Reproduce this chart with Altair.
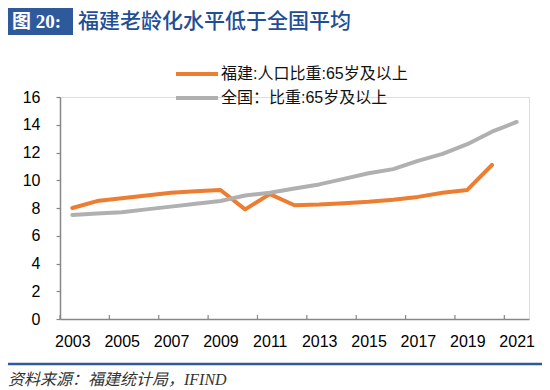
import altair as alt
import pandas as pd

# ---- data ----
years = list(range(2003, 2022))
fujian_years = list(range(2003, 2021))
fujian = [8.0, 8.5, 8.7, 8.9, 9.1, 9.2, 9.3, 7.9, 9.0, 8.2, 8.25, 8.35, 8.45, 8.6, 8.8, 9.1, 9.3, 11.1]
national = [7.5, 7.6, 7.7, 7.9, 8.1, 8.3, 8.5, 8.9, 9.1, 9.4, 9.7, 10.1, 10.5, 10.8, 11.4, 11.9, 12.6, 13.5, 14.2]
series_names = ["福建:人口比重:65岁及以上", "全国：比重:65岁及以上"]
series_colors = ["#ED7D31", "#B0B0B0"]
y_ticks = [0, 2, 4, 6, 8, 10, 12, 14, 16]
x_label_years = [2003, 2005, 2007, 2009, 2011, 2013, 2015, 2017, 2019, 2021]
title_tag = "图 20:"
title_text = "福建老龄化水平低于全国平均"
source_text = "资料来源：福建统计局，IFIND"

rows = []
for yr, v in zip(fujian_years, fujian):
    rows.append({"year": yr, "value": v, "series": series_names[0], "k": 0})
for yr, v in zip(years, national):
    rows.append({"year": yr, "value": v, "series": series_names[1], "k": 1})
df = pd.DataFrame(rows)

W, H = 469, 222
band = W / len(years)
AXIS_COLOR = "#878787"
BLUE = "#2E5A9C"
NUM_FONT = "Liberation Sans"
CJK_FONT = "Liberation Sans, Noto Sans CJK SC"

x_scale = alt.Scale(domain=[years[0] - 0.5, years[-1] + 0.5], nice=False, zero=False)
y_scale = alt.Scale(domain=[0, 16], nice=False)
color_scale = alt.Scale(domain=series_names, range=series_colors)

tick_pos = [y - 0.5 for y in x_label_years]
tick_df = pd.DataFrame({"t": tick_pos})

lines = alt.Chart(df).mark_line(strokeWidth=4, strokeJoin="round", strokeCap="round").encode(
    x=alt.X("year:Q", scale=x_scale,
            axis=alt.Axis(values=tick_pos, labelExpr="'' + (datum.value + 0.5)",
                          labelOffset=band / 2, ticks=False, tickSize=0, grid=False,
                          title=None, labelFont=NUM_FONT, labelFontSize=16,
                          labelColor="#000000", labelPadding=14, labelFlush=False,
                          labelOverlap=False, domainColor=AXIS_COLOR, domainWidth=1.5)),
    y=alt.Y("value:Q", scale=y_scale,
            axis=alt.Axis(values=y_ticks, grid=False, title=None, tickSize=4,
                          tickColor=AXIS_COLOR, tickWidth=1.2, labelFont=NUM_FONT,
                          labelFontSize=16, labelColor="#000000", labelPadding=16,
                          domainColor=AXIS_COLOR, domainWidth=1.5)),
    color=alt.Color("series:N", scale=color_scale, legend=None),
    detail="k:N",
    order="year:Q",
)

xticks = alt.Chart(tick_df).mark_rule(color=AXIS_COLOR, strokeWidth=1.2).encode(
    x=alt.X("t:Q", scale=x_scale),
    y=alt.value(H - 4),
    y2=alt.value(H),
)

layers = [xticks, lines]

# manual legend
for i, name in enumerate(series_names):
    ldf = pd.DataFrame({"series": [name]})
    layers.append(alt.Chart(ldf).mark_rule(strokeWidth=4).encode(
        x=alt.value(116), x2=alt.value(158), y=alt.value(-23 + 24 * i),
        color=alt.Color("series:N", scale=color_scale, legend=None)))
    layers.append(alt.Chart(ldf).mark_text(align="left", baseline="middle", font=CJK_FONT,
                                           fontSize=16, color="#111111").encode(
        x=alt.value(161), y=alt.value(-23 + 24 * i), text="series:N"))

one = pd.DataFrame({"a": [0]})
# header box + title
layers.append(alt.Chart(one).mark_rect(color=BLUE).encode(
    x=alt.value(-52), x2=alt.value(13), y=alt.value(-89), y2=alt.value(-62)))
layers.append(alt.Chart(one).mark_text(align="left", baseline="middle", font="Liberation Serif, Noto Sans CJK SC",
                                       fontSize=19, fontWeight="bold", color="#FFFFFF").encode(
    x=alt.value(-48), y=alt.value(-75), text=alt.value(title_tag)))
layers.append(alt.Chart(one).mark_text(align="left", baseline="middle", font="Noto Sans CJK SC",
                                       fontSize=21, fontWeight=500, color="#1F4E96").encode(
    x=alt.value(18), y=alt.value(-75), text=alt.value(title_text)))
# bottom rule + source
layers.append(alt.Chart(one).mark_rule(color=BLUE, strokeWidth=2.5).encode(
    x=alt.value(-52), x2=alt.value(482), y=alt.value(267)))
layers.append(alt.Chart(one).mark_text(align="left", baseline="middle", font="Liberation Serif, Noto Sans CJK SC",
                                       fontSize=16, fontStyle="italic", color="#333333").encode(
    x=alt.value(-52), y=alt.value(283), text=alt.value(source_text)))

chart = alt.layer(*layers).properties(
    width=W, height=H,
    autosize=alt.AutoSizeParams(type="none"),
    padding={"left": 52, "top": 89, "right": 13, "bottom": 68},
).configure_view(stroke=None).configure(background="#FFFFFF")

chart.save("out.html", embed_options={"renderer": "svg", "actions": False})
